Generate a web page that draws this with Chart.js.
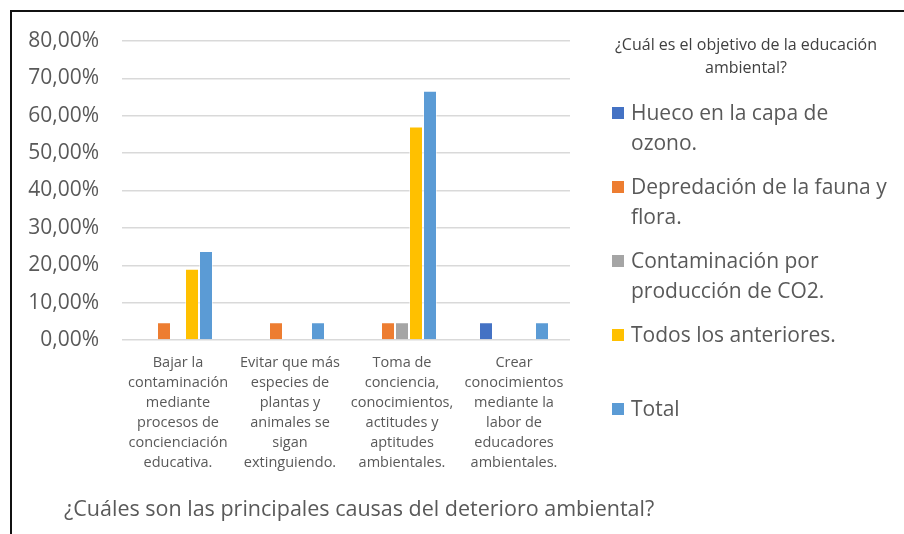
<!DOCTYPE html>
<html>
<head>
<meta charset="utf-8">
<script src="https://cdn.jsdelivr.net/npm/chart.js@4"></script>
<style>
  html, body { margin: 0; padding: 0; background: #fff; }
  #wrap { position: relative; width: 904px; height: 534px; overflow: hidden; font-family: "Open Sans", sans-serif; }
  #frame { position: absolute; left: 10px; top: 10px; right: -5px; bottom: -5px; border-left: 2px solid #111; border-top: 2px solid #111; }
  #chartCanvas { position: absolute; left: 0; top: 0; }
  #title { position: absolute; left: 596px; top: 33px; width: 300px; text-align: center; font-size: 16px; line-height: 23px; color: #404040; }
  #legend { position: absolute; left: 612px; top: 97px; width: 285px; }
  .item { position: relative; height: 74px; padding-left: 19px; font-size: 21px; line-height: 30px; color: #595959; }
  .box { position: absolute; left: 0; top: 10px; width: 12px; height: 12px; }
  #bottomText { position: absolute; left: 64px; top: 493px; font-size: 21.5px; color: #595959; }
</style>
</head>
<body>
<div id="wrap">
  <div id="frame"></div>
  <canvas id="chartCanvas" width="904" height="534"></canvas>
  <div id="title">¿Cuál es el objetivo de la educación ambiental?</div>
  <div id="legend"></div>
  <div id="bottomText">¿Cuáles son las principales causas del deterioro ambiental?</div>
</div>
<script>
// categories (x axis labels, wrapped like the original)
const categories = [
    ['Bajar la', 'contaminación', 'mediante', 'procesos de', 'concienciación', 'educativa.'],
    ['Evitar que más', 'especies de', 'plantas y', 'animales se', 'sigan', 'extinguiendo.'],
    ['Toma de', 'conciencia,', 'conocimientos,', 'actitudes y', 'aptitudes', 'ambientales.'],
    ['Crear', 'conocimientos', 'mediante la', 'labor de', 'educadores', 'ambientales.']
];

// series values in percent
const hueco = [null, null, null, 4.76];
const depredacion = [4.76, 4.76, 4.76, null];
const contaminacion = [null, null, 4.76, null];
const todos = [19.05, null, 57.14, null];
const total = [23.81, 4.76, 66.67, 4.76];

const seriesNames = ['Hueco en la capa de ozono.', 'Depredación de la fauna y flora.', 'Contaminación por producción de CO2.', 'Todos los anteriores.', 'Total'];
const seriesColors = ['#4472C4', '#ED7D31', '#A5A5A5', '#FFC000', '#5B9BD5'];
const seriesValues = [hueco, depredacion, contaminacion, todos, total];

// y axis ticks
const yTicks = [0, 10, 20, 30, 40, 50, 60, 70, 80];

const ctx = document.getElementById('chartCanvas').getContext('2d');
const chart = new Chart(ctx, {
    type: 'bar',
    data: {
        labels: categories,
        datasets: seriesValues.map((vals, i) => ({
            label: seriesNames[i],
            data: vals,
            backgroundColor: seriesColors[i],
            borderColor: 'rgba(255,255,255,0.5)',
            borderWidth: 1,
            categoryPercentage: 0.625,
            barPercentage: 1.0
        }))
    },
    options: {
        responsive: false,
        animation: false,
        layout: {
            padding: { top: 41, right: 334, bottom: 0, left: 0 }
        },
        scales: {
            y: {
                min: 0,
                max: 80,
                afterFit: function(scale) { scale.width = 122; },
                afterBuildTicks: function(scale) {
                    scale.ticks = yTicks.map(v => ({ value: v }));
                },
                ticks: {
                    padding: 23,
                    color: '#595959',
                    font: { family: 'Open Sans', size: 21 },
                    callback: function(value) {
                        return value.toFixed(2).replace('.', ',') + '%';
                    }
                },
                grid: {
                    color: '#D9D9D9',
                    lineWidth: 1.5,
                    drawTicks: false
                },
                border: { display: false }
            },
            x: {
                afterFit: function(scale) { scale.height = 534 - 340; },
                ticks: {
                    padding: 13,
                    maxRotation: 0,
                    autoSkip: false,
                    color: '#595959',
                    font: { family: 'Open Sans', size: 14.5, lineHeight: 1.38 }
                },
                grid: { display: false, drawTicks: false },
                border: { display: false }
            }
        },
        plugins: {
            legend: { display: false },
            tooltip: { enabled: false }
        }
    }
});

// html legend built from the series arrays
const legendEl = document.getElementById('legend');
seriesNames.forEach((name, i) => {
    const item = document.createElement('div');
    item.className = 'item';
    const box = document.createElement('span');
    box.className = 'box';
    box.style.background = seriesColors[i];
    item.appendChild(box);
    item.appendChild(document.createTextNode(name));
    legendEl.appendChild(item);
});
</script>
</body>
</html>
